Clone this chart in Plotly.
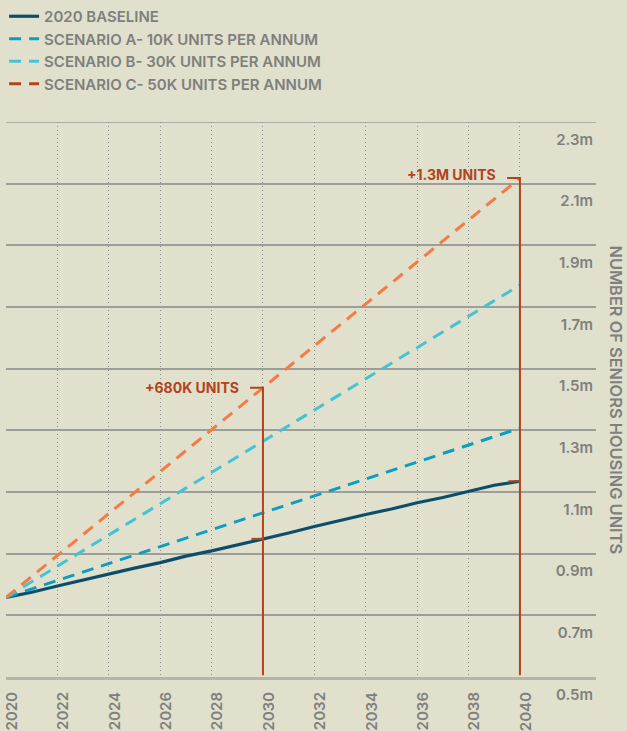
import plotly.graph_objects as go

# Seniors housing supply projections (millions of units)
years = list(range(2020, 2041))
baseline = [0.758, 0.775, 0.795, 0.815, 0.833, 0.853, 0.871, 0.892, 0.909, 0.928,
            0.948, 0.967, 0.988, 1.008, 1.027, 1.045, 1.065, 1.082, 1.102, 1.122, 1.135]

scenario_years = [2020, 2030, 2040]
scenario_a = [0.758, 1.032, 1.307]
scenario_b = [0.758, 1.265, 1.771]
scenario_c = [0.758, 1.438, 2.118]

bracket_years = [2030, 2040]
bracket_labels = ["+680K UNITS", "+1.3M UNITS"]

y_ticks = [0.5, 0.7, 0.9, 1.1, 1.3, 1.5, 1.7, 1.9, 2.1, 2.3]
y_ticktext = ["0.5m", "0.7m", "0.9m", "1.1m", "1.3m", "1.5m", "1.7m", "1.9m", "2.1m", "2.3m"]
x_ticks = list(range(2020, 2041, 2))

BG = "#e0e0cc"
GREY = "#7f7f7d"
GRID = "#9c9e9a"
NAVY = "#0d4d6c"
TEAL = "#0a9fbe"
CYAN = "#44c3d5"
ORANGE = "#f47b45"
RUST = "#b3431d"
FONT = "Inter"

fig = go.Figure()

fig.add_trace(go.Scatter(x=years, y=baseline, mode="lines", name="2020 BASELINE",
                         line=dict(color=NAVY, width=3.2)))
fig.add_trace(go.Scatter(x=scenario_years, y=scenario_a, mode="lines",
                         name="SCENARIO A- 10K UNITS PER ANNUM",
                         line=dict(color=TEAL, width=3, dash="12px,8px")))
fig.add_trace(go.Scatter(x=scenario_years, y=scenario_b, mode="lines",
                         name="SCENARIO B- 30K UNITS PER ANNUM",
                         line=dict(color=CYAN, width=3, dash="12px,8px")))
fig.add_trace(go.Scatter(x=scenario_years, y=scenario_c, mode="lines",
                         name="SCENARIO C- 50K UNITS PER ANNUM", showlegend=False,
                         line=dict(color=ORANGE, width=3, dash="12px,8px")))
# legend swatch for scenario C uses the darker accent colour
fig.add_trace(go.Scatter(x=[None], y=[None], mode="lines",
                         name="SCENARIO C- 50K UNITS PER ANNUM",
                         line=dict(color=RUST, width=3, dash="12px,8px")))

# brackets marking the gap between scenario C and the axis floor
y_floor = y_ticks[0] + 0.006
label_yshift = [0, 4]
for yr, label, ys in zip(bracket_years, bracket_labels, label_yshift):
    top = scenario_c[scenario_years.index(yr)]
    base = baseline[years.index(yr)]
    fig.add_trace(go.Scatter(x=[yr - 0.5, yr, yr], y=[top, top, y_floor], mode="lines",
                             showlegend=False, hoverinfo="skip",
                             line=dict(color=RUST, width=2)))
    fig.add_trace(go.Scatter(x=[yr - 0.45, yr], y=[base, base], mode="lines",
                             showlegend=False, hoverinfo="skip",
                             line=dict(color=RUST, width=2)))
    fig.add_annotation(x=yr - 0.5, y=top, text=label, showarrow=False,
                       xanchor="right", yanchor="middle", xshift=-9, yshift=ys,
                       font=dict(family=FONT, size=14, color=RUST, weight=700))

# top rule of the grid at the highest tick
fig.add_hline(y=y_ticks[-1], line=dict(color=GRID, width=1.5), layer="below")

fig.add_annotation(xref="paper", yref="paper", x=1.0, y=0.5, xshift=20,
                   text="NUMBER OF SENIORS HOUSING UNITS", textangle=90,
                   showarrow=False, xanchor="center", yanchor="middle",
                   font=dict(family=FONT, size=16.4, color=GREY, weight=600))

fig.update_layout(
    width=627, height=731,
    margin=dict(l=6, r=31, t=122, b=54, autoexpand=False),
    paper_bgcolor=BG, plot_bgcolor=BG,
    font=dict(family=FONT, color=GREY),
    legend=dict(xref="container", yref="container", x=0.0065, y=1.0,
                xanchor="left", yanchor="top", bgcolor="rgba(0,0,0,0)",
                font=dict(family=FONT, size=15, color=GREY, weight=600),
                tracegroupgap=0, itemwidth=30),
    xaxis=dict(range=[2020, 2042.96], tickvals=x_ticks, tickangle=-90,
               tickfont=dict(family=FONT, size=15, color=GREY, weight=600),
               showgrid=True, gridcolor="#8d8f8a", gridwidth=1, griddash="1px,3px",
               showline=True, linecolor="#b3b4aa", linewidth=3,
               zeroline=False, ticks="", ticklabelshift=6, ticklabelstandoff=6,
               automargin=False),
    yaxis=dict(range=[0.5, 2.3], tickvals=y_ticks, ticktext=y_ticktext,
               side="right", ticklabelposition="inside bottom",
               ticklabeloverflow="allow", ticklabelshift=7,
               tickfont=dict(family=FONT, size=15, color=GREY, weight=600),
               showgrid=True, gridcolor=GRID, gridwidth=1.5,
               zeroline=False, showline=False, ticks="", automargin=False),
)

fig.write_html("out.html")
